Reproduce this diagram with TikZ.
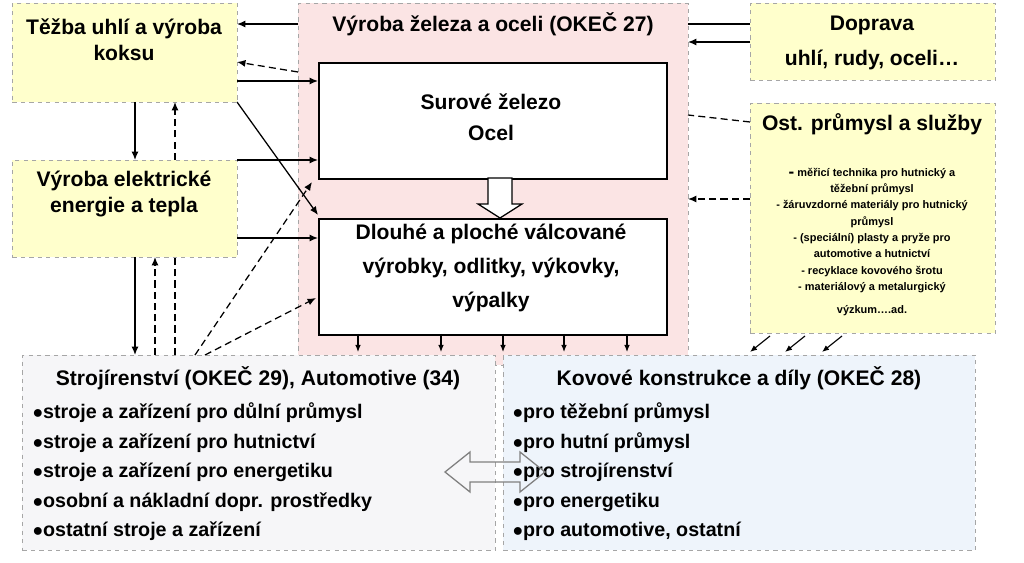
\documentclass[tikz,border=0pt]{standalone}
\usepackage{fontspec}
\setmainfont{Liberation Sans}
\usetikzlibrary{arrows.meta,shapes.arrows}
\definecolor{yel}{HTML}{FFFFCC}
\definecolor{pinkbg}{HTML}{FBE4E4}
\definecolor{bluebg}{HTML}{EEF4FB}
\definecolor{graybg}{HTML}{F6F6F8}
\tikzset{
 dbox/.style={draw=gray!70,dashed,line width=0.6pt},
 sbox/.style={draw=black,line width=1.2pt,fill=white},
 ar/.style={-{Latex[length=6pt,width=5pt]},line width=0.9pt},
 dar/.style={-{Latex[length=6pt,width=5pt]},line width=0.9pt,dashed,dash pattern=on 5pt off 3pt},
 dl/.style={line width=0.9pt,dash pattern=on 5pt off 3pt},
 ttl/.style={font=\bfseries\fontsize{15}{18.5}\selectfont,align=center},
 bl/.style={font=\bfseries\fontsize{14}{21}\selectfont,align=left,anchor=north west},
}
\begin{document}
\begin{tikzpicture}[x=0.025cm,y=-0.025cm]
\useasboundingbox (0,0) rectangle (1024,563);
\node[dbox,fill=pinkbg,minimum width=390*0.025cm,minimum height=362*0.025cm,anchor=north west,inner sep=0] (hut) at (298,3) {};
\node[dbox,fill=graybg,minimum width=473*0.025cm,minimum height=195*0.025cm,anchor=north west,inner sep=0] (stroj) at (22,355) {};
\node[dbox,fill=bluebg,minimum width=472*0.025cm,minimum height=195*0.025cm,anchor=north west,inner sep=0] (kov) at (503,355) {};
\node[dbox,fill=yel,minimum width=225*0.025cm,minimum height=99*0.025cm,anchor=north west,inner sep=0] (tez) at (12,3) {};
\node[dbox,fill=yel,minimum width=225*0.025cm,minimum height=97*0.025cm,anchor=north west,inner sep=0] (ele) at (12,160) {};
\node[dbox,fill=yel,minimum width=245*0.025cm,minimum height=77*0.025cm,anchor=north west,inner sep=0] (dop) at (750,3) {};
\node[dbox,fill=yel,minimum width=245*0.025cm,minimum height=230*0.025cm,anchor=north west,inner sep=0] (ost) at (750,103) {};
\node[sbox,minimum width=348*0.025cm,minimum height=116*0.025cm,anchor=north west,inner sep=0] (sur) at (318,62) {};
\node[sbox,minimum width=348*0.025cm,minimum height=116*0.025cm,anchor=north west,inner sep=0] (dlo) at (318,218) {};
\node[ttl] (t1) at (124,40) {Těžba uhlí a výroba\\koksu};
\node[ttl] (t2) at (124,194) {Výroba elektrické\\energie a tepla};
\node[ttl] (t3) at (493,24) {Výroba železa a oceli (OKEČ 27)};
\node[ttl,font=\bfseries\fontsize{15}{22}\selectfont] (t4) at (491,117) {Surové železo\\Ocel};
\node[ttl,font=\bfseries\fontsize{15}{24}\selectfont] (t5) at (491,268) {Dlouhé a ploché válcované\\výrobky, odlitky, výkovky,\\výpalky};
\node[ttl,font=\bfseries\fontsize{15}{25}\selectfont] (t6) at (872,43) {Doprava\\uhlí, rudy, oceli…};
\node[ttl] (t7) at (872,124) {Ost. průmysl a služby};
\node[font=\bfseries\fontsize{7.8}{11.6}\selectfont,align=center] (t8) at (872,242) {{\large\raisebox{-1pt}{-}} měřicí technika pro hutnický a\\ těžební průmysl\\- žáruvzdorné materiály pro hutnický\\průmysl\\- (speciální) plasty a pryže pro\\automotive a hutnictví\\- recyklace kovového šrotu\\- materiálový a metalurgický\\[5pt] výzkum….ad.};
\node[ttl] (t9) at (258,378) {Strojírenství (OKEČ 29), Automotive (34)};
\node[ttl] (t10) at (739,378) {Kovové konstrukce a díly (OKEČ 28)};
\node[bl] (l1) at (28,398) {$\bullet$stroje a zařízení pro důlní průmysl\\$\bullet$stroje a zařízení pro hutnictví\\$\bullet$stroje a zařízení pro energetiku\\$\bullet$osobní a nákladní dopr. prostředky\\$\bullet$ostatní stroje a zařízení};
\node[bl] (l2) at (508,398) {$\bullet$pro těžební průmysl\\$\bullet$pro hutní průmysl\\$\bullet$pro strojírenství\\$\bullet$pro energetiku\\$\bullet$pro automotive, ostatní};
% hollow arrows
\draw[line width=0.9pt,fill=white] (488,178) -- (512,178) -- (512,204) -- (522,204) -- (500,218) -- (478,204) -- (488,204) -- cycle;
\draw[gray,line width=0.9pt] (445,472) -- (470,452) -- (470,462) -- (520,462) -- (520,452) -- (545,472) -- (520,492) -- (520,482) -- (470,482) -- (470,492) -- cycle;
% connectors
\draw[line width=0.9pt] (750,24) -- (688,24);
\draw[ar] (750,42) -- (688,42);
\draw[dl] (750,122) -- (688,115);
\draw[dar] (750,199) -- (688,199);
\draw[ar] (298,24) -- (237,24);
\draw[dar] (298,72) -- (237,62);
\draw[ar] (237,81) -- (318,81);
\draw[ar] (135,102) -- (135,160);
\draw[dar] (175,160) -- (175,102);
\draw[ar] (237,102) -- (318,215);
\draw[ar] (237,160) -- (318,160);
\draw[ar] (237,238) -- (318,238);
\draw[dar] (195,355) -- (312,182);
\draw[dar] (205,355) -- (316,298);
\draw[ar] (135,257) -- (135,355);
\draw[dar] (155,355) -- (155,257);
\draw[dl] (175,355) -- (175,257);
\foreach \x in {358,441,503,564,627} \draw[-{Latex[length=5pt,width=4pt]},line width=0.8pt] (\x,334) -- (\x,352);
\foreach \x in {770,805,842} \draw[-{Latex[length=5pt,width=4pt]},line width=0.8pt] (\x,336) -- (\x-20,352);
\end{tikzpicture}
\end{document}
